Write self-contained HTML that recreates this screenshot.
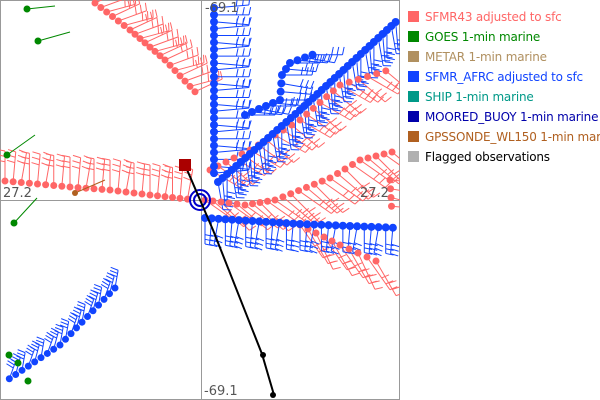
<!DOCTYPE html>
<html><head><style>
body{margin:0;background:#fff;width:600px;height:400px;overflow:hidden;font-family:"Liberation Sans","DejaVu Sans",sans-serif}
#lg{position:absolute;left:408px;top:7px;font-size:12px;font-family:"DejaVu Sans",sans-serif;letter-spacing:-0.2px}
#lg div{height:20px;line-height:20px;white-space:nowrap}
#lg span{display:inline-block;width:11px;height:11px;margin-right:6px;vertical-align:-1px}
</style></head><body>
<svg id="s" width="600" height="400" style="position:absolute;left:0;top:0">
<defs><clipPath id="c"><rect x="0" y="0" width="400" height="400"/></clipPath></defs>
<rect x="0.5" y="0.5" width="399" height="399" fill="none" stroke="#999"/>
<line x1="0" y1="200.5" x2="400" y2="200.5" stroke="#999"/>
<line x1="201.5" y1="0" x2="201.5" y2="400" stroke="#999"/>
<g id="g" clip-path="url(#c)"></g>
<text x="3" y="197" font-size="13" fill="#555" font-family="DejaVu Sans,sans-serif">27.2</text>
<text x="360" y="197" font-size="13" fill="#555" font-family="DejaVu Sans,sans-serif">27.2</text>
<text x="205" y="12" font-size="13" fill="#555" font-family="DejaVu Sans,sans-serif">-69.1</text>
<text x="204" y="395" font-size="13" fill="#555" font-family="DejaVu Sans,sans-serif">-69.1</text>
</svg>
<div id="lg">
<div style="color:#ff6666"><span style="background:#ff6666"></span>SFMR43 adjusted to sfc</div>
<div style="color:#008800"><span style="background:#008800"></span>GOES 1-min marine</div>
<div style="color:#b09060"><span style="background:#b09060"></span>METAR 1-min marine</div>
<div style="color:#1144ff"><span style="background:#1144ff"></span>SFMR_AFRC adjusted to sfc</div>
<div style="color:#009988"><span style="background:#009988"></span>SHIP 1-min marine</div>
<div style="color:#0000aa"><span style="background:#0000aa"></span>MOORED_BUOY 1-min marine</div>
<div style="color:#b06020"><span style="background:#b06020"></span>GPSSONDE_WL150 1-min mar</div>
<div style="color:#000"><span style="background:#b0b0b0"></span>Flagged observations</div>
</div>
<script>
var g=document.getElementById('g'),h='',d='';
function track(pts,sp,col,ang,len,r){
 for(var i=0;i<pts.length-1;i++){
  var a=pts[i],b=pts[i+1],L=Math.hypot(b[0]-a[0],b[1]-a[1]),n=Math.max(1,Math.round(L/sp));
  for(var k=0;k<n;k++){
   var t=k/n,x=a[0]+(b[0]-a[0])*t,y=a[1]+(b[1]-a[1])*t;
   var an=(ang+ (k%3-1)*5)*Math.PI/180,ex=x+Math.cos(an)*len,ey=y+Math.sin(an)*len;
   h+='<line x1="'+x+'" y1="'+y+'" x2="'+ex+'" y2="'+ey+'" stroke="'+col+'" stroke-width="1"/>';
   for(var j=0;j<3;j++){var f=1-j*0.18,px=x+(ex-x)*f,py=y+(ey-y)*f,ba=an-Math.PI/2.3;
    h+='<line x1="'+px+'" y1="'+py+'" x2="'+(px+Math.cos(ba)*8)+'" y2="'+(py+Math.sin(ba)*8)+'" stroke="'+col+'"/>';}
   d+='<circle cx="'+x+'" cy="'+y+'" r="'+r+'" fill="'+col+'"/>';
  }
 }
}
var R='#ff6666',B='#1144ff';
track([[95,3],[130,30],[165,60],[200,97]],7,R,-20,30,3.5);
track([[5,181],[70,187],[110,190],[150,195],[195,200]],8,R,-85,30,3.5);
track([[205,200],[245,205],[275,200],[330,178],[360,160],[400,150]],8,R,40,40,3.5);
track([[210,170],[250,150],[300,120],[340,85],[395,68]],9,R,35,35,3.5);
track([[300,225],[340,245],[385,265]],9,R,60,40,3.5);
track([[390,180],[392,215]],9,R,10,30,3.5);
track([[214,8],[214,180]],7,B,0,35,4);
track([[218,182],[300,110],[400,18]],6,B,85,28,4);
track([[245,115],[280,100],[282,75],[290,63],[320,52]],8,B,5,30,4);
track([[205,218],[300,224],[400,228]],7,B,95,26,4);
track([[115,288],[60,345],[3,383]],8,B,-75,18,3.5);
g.innerHTML=h+d+
'<circle cx="200" cy="200" r="10" fill="none" stroke="#0000cc" stroke-width="2"/><circle cx="200" cy="200" r="6" fill="none" stroke="#0000cc" stroke-width="2"/>'+
'<polyline points="185,165 213,230 262,354 274,395" fill="none" stroke="#000" stroke-width="2"/><circle cx="263" cy="355" r="3"/><circle cx="273" cy="395" r="3"/>'+
'<rect x="179" y="159" width="12" height="12" fill="#aa0000"/>'+
'<g stroke="#008800" fill="#008800"><line x1="27" y1="9" x2="55" y2="6"/><circle cx="27" cy="9" r="3"/><line x1="38" y1="41" x2="70" y2="32"/><circle cx="38" cy="41" r="3"/><line x1="7" y1="155" x2="35" y2="135"/><circle cx="7" cy="155" r="3"/><line x1="14" y1="223" x2="37" y2="198"/><circle cx="14" cy="223" r="3"/><circle cx="9" cy="355" r="3"/><circle cx="18" cy="363" r="3"/><circle cx="28" cy="381" r="3"/></g>'+
'<circle cx="75" cy="193" r="3" fill="#b06020"/><line x1="75" y1="193" x2="105" y2="180" stroke="#b06020"/>';
</script>
</body></html>
